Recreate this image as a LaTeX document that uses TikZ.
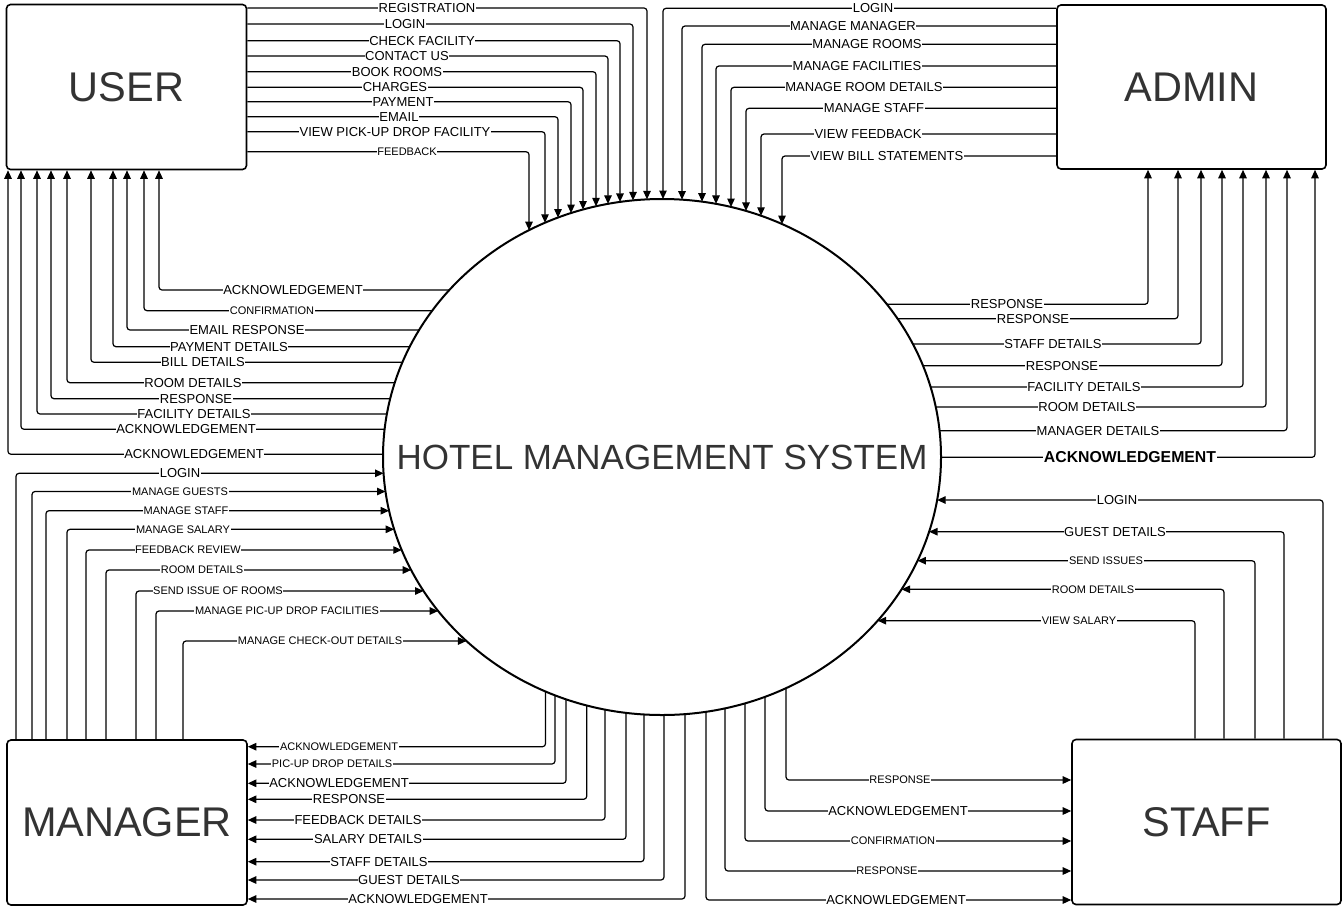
\documentclass[tikz,border=0pt]{standalone}
\usepackage{fontspec}
\setmainfont{Liberation Sans}
\usetikzlibrary{arrows.meta,shapes.geometric,calc}
\newcommand\fsz[1]{\fontsize{#1}{#1}\selectfont}
\definecolor{txtgray}{HTML}{333333}
\tikzset{
  flow/.style={draw, line width=1.2pt, rounded corners=3pt, -{Triangle[length=8.5pt,width=7.5pt]}},
  lbl/.style={fill=white, inner sep=0.6pt, text=black},
  entity/.style={draw, line width=1.6pt, rounded corners=4pt, inner sep=0pt, text=txtgray, font=\fsz{41.5}},
}
\begin{document}
\begin{tikzpicture}[x=1pt,y=-1pt]
\useasboundingbox (0,0) rectangle (1343,910);

% entities
\node[entity, minimum width=240pt, minimum height=165pt] (user) at (126.5,87) {USER};
\node[entity, minimum width=269pt, minimum height=164pt] (admin) at (1191.5,87) {ADMIN};
\node[entity, minimum width=240pt, minimum height=165pt] (manager) at (127,822.5) {MANAGER};
\node[entity, minimum width=269pt, minimum height=165pt] (staff) at (1206.5,822) {STAFF};

% process
\node[draw, ellipse, line width=2pt, minimum width=558pt, minimum height=516pt, inner sep=0pt] (sys) at (662,457) {};
\node[text=txtgray, font=\fsz{35}, inner sep=0pt] (systxt) at (sys.center) {HOTEL MANAGEMENT SYSTEM};

% USER -> system (top)
\foreach \yy/\xx/\lx/\fs/\lab [count=\i] in {
  8/647/427/13/REGISTRATION,
  24/633/405/13/LOGIN,
  40.7/620/422/13/CHECK FACILITY,
  56/608/407/13/CONTACT US,
  71.7/596/397/13/BOOK ROOMS,
  87.3/583/395/13/CHARGES,
  101.7/571/403/13/PAYMENT,
  116.7/558/399/13/EMAIL,
  131.7/545/395/13/VIEW PICK-UP DROP FACILITY,
  151.7/529/407/11/FEEDBACK}{
  \pgfmathsetmacro\ey{457-258*sqrt(1-((\xx-662)/279)^2)}
  \draw[flow] (user.east |- 0,\yy) -| ($(sys.center)+(\xx-662,\ey-457)$);
  \node[lbl, font=\fsz{\fs}] (ua\i) at (\lx,\yy) {\lab};
}

% ADMIN -> system (top)
\foreach \yy/\xx/\lx/\fs/\lab [count=\i] in {
  8.3/663/873/13/LOGIN,
  26/682/853/13/MANAGE MANAGER,
  44.3/702/867/13/MANAGE ROOMS,
  66/716/857/13/MANAGE FACILITIES,
  87.3/731/864/13/MANAGE ROOM DETAILS,
  108.3/746/874/13/MANAGE STAFF,
  134/761/868/13/VIEW FEEDBACK,
  156/782/887/13/VIEW BILL STATEMENTS}{
  \pgfmathsetmacro\ey{457-258*sqrt(1-((\xx-662)/279)^2)}
  \draw[flow] (admin.west |- 0,\yy) -| ($(sys.center)+(\xx-662,\ey-457)$);
  \node[lbl, font=\fsz{\fs}] (aa\i) at (\lx,\yy) {\lab};
}

% system -> USER
\foreach \yy/\xx/\lx/\fs/\lab [count=\i] in {
  290/159/293/13/ACKNOWLEDGEMENT,
  310.7/144/272/11/CONFIRMATION,
  330/127/247/13/EMAIL RESPONSE,
  346.7/113/229/13/PAYMENT DETAILS,
  362.3/91/203/13/BILL DETAILS,
  382.7/67/193/13/ROOM DETAILS,
  398.7/51/196/13/RESPONSE,
  414/37/194/13/FACILITY DETAILS,
  429.3/21/186/13/ACKNOWLEDGEMENT,
  454.3/8/194/13/ACKNOWLEDGEMENT}{
  \pgfmathsetmacro\ex{662-279*sqrt(1-((\yy-457)/258)^2)}
  \draw[flow] ($(sys.center)+(\ex-662,\yy-457)$) -| (user.south -| \xx,0);
  \node[lbl, font=\fsz{\fs}] (ub\i) at (\lx,\yy) {\lab};
}

% system -> ADMIN
\foreach \yy/\xx/\lx/\fs/\lab [count=\i] in {
  304.3/1148/1007/13/RESPONSE,
  318.7/1178/1033/13/RESPONSE,
  344/1201/1053/13/STAFF DETAILS,
  365.7/1222/1062/13/RESPONSE,
  387/1243/1084/13/FACILITY DETAILS,
  407/1266/1087/13/ROOM DETAILS,
  430.7/1287/1098/13/MANAGER DETAILS,
  457.3/1315/1130/15.8/{\bfseries ACKNOWLEDGEMENT}}{
  \pgfmathsetmacro\ex{662+279*sqrt(1-((\yy-457)/258)^2)}
  \draw[flow] ($(sys.center)+(\ex-662,\yy-457)$) -| (admin.south -| \xx,0);
  \node[lbl, font=\fsz{\fs}] (ab\i) at (\lx,\yy) {\lab};
}

% MANAGER -> system
\foreach \yy/\xx/\lx/\fs/\lab [count=\i] in {
  473.3/16/180/13/LOGIN,
  491.5/32/180/11/MANAGE GUESTS,
  510.7/46/186/11/MANAGE STAFF,
  529.3/67/183/11/MANAGE SALARY,
  550/86/188/11/FEEDBACK REVIEW,
  570/106/202/11/ROOM DETAILS,
  591/136/218/11/SEND ISSUE OF ROOMS,
  611/156/287/11/MANAGE PIC-UP DROP FACILITIES,
  641/183/320/11/MANAGE CHECK-OUT DETAILS}{
  \pgfmathsetmacro\ex{662-279*sqrt(1-((\yy-457)/258)^2)}
  \draw[flow] (manager.north -| \xx,0) |- ($(sys.center)+(\ex-662,\yy-457)$);
  \node[lbl, font=\fsz{\fs}] (ma\i) at (\lx,\yy) {\lab};
}

% STAFF -> system
\foreach \yy/\xx/\lx/\fs/\lab [count=\i] in {
  500/1323/1117/13/LOGIN,
  531.7/1284/1115/13/GUEST DETAILS,
  560.7/1255/1106/11/SEND ISSUES,
  589.3/1224/1093/11/ROOM DETAILS,
  620.7/1195/1079/11/VIEW SALARY}{
  \pgfmathsetmacro\ex{662+279*sqrt(1-((\yy-457)/258)^2)}
  \draw[flow] (staff.north -| \xx,0) |- ($(sys.center)+(\ex-662,\yy-457)$);
  \node[lbl, font=\fsz{\fs}] (sa\i) at (\lx,\yy) {\lab};
}

% system -> MANAGER
\foreach \xx/\yy/\lx/\fs/\lab [count=\i] in {
  545.5/746.7/339/11/ACKNOWLEDGEMENT,
  555/764/332/11/PIC-UP DROP DETAILS,
  566/783.3/339/13/ACKNOWLEDGEMENT,
  586.7/799.3/349/13/RESPONSE,
  605/820/358/13/FEEDBACK DETAILS,
  626/839.3/368/13/SALARY DETAILS,
  644/861.7/379/13/STAFF DETAILS,
  664/880/409/13/GUEST DETAILS,
  685/899/418/13/ACKNOWLEDGEMENT}{
  \pgfmathsetmacro\ey{457+258*sqrt(1-((\xx-662)/279)^2)}
  \draw[flow] ($(sys.center)+(\xx-662,\ey-457)$) |- (manager.east |- 0,\yy);
  \node[lbl, font=\fsz{\fs}] (mb\i) at (\lx,\yy) {\lab};
}

% system -> STAFF
\foreach \xx/\yy/\lx/\fs/\lab [count=\i] in {
  786/780/900/11/RESPONSE,
  765/811/898/13/ACKNOWLEDGEMENT,
  745/841/893/11/CONFIRMATION,
  725/871/887/11/RESPONSE,
  706/900/896/13/ACKNOWLEDGEMENT}{
  \pgfmathsetmacro\ey{457+258*sqrt(1-((\xx-662)/279)^2)}
  \draw[flow] ($(sys.center)+(\xx-662,\ey-457)$) |- (staff.west |- 0,\yy);
  \node[lbl, font=\fsz{\fs}] (sb\i) at (\lx,\yy) {\lab};
}
\end{tikzpicture}
\end{document}
